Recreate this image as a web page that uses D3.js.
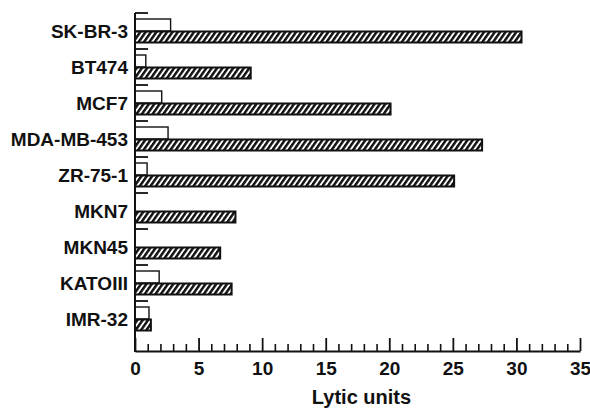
<!DOCTYPE html>
<html>
<head>
<meta charset="utf-8">
<script src="https://cdn.jsdelivr.net/npm/d3@7"></script>
<style>
  body { margin: 0; background: #fff; }
  .label { font-family: "Liberation Sans", Arial, sans-serif; font-size: 19px; font-weight: bold; fill: #111; }
  .tick text { font-family: "Liberation Sans", Arial, sans-serif; font-size: 19px; font-weight: bold; fill: #111; }
</style>
</head>
<body>
<div id="chart"></div>
<script>
'use strict'

// cell lines, top to bottom
var cellLines = ["SK-BR-3", "BT474", "MCF7", "MDA-MB-453", "ZR-75-1", "MKN7", "MKN45", "KATOIII", "IMR-32"]
// open bars (control) and hatched bars, in lytic units
var openValues = [2.8, 0.85, 2.1, 2.6, 0.95, 0, 0, 1.9, 1.1]
var hatchedValues = [30.4, 9.1, 20.1, 27.3, 25.1, 7.9, 6.7, 7.6, 1.25]
var majorTicks = [0, 5, 10, 15, 20, 25, 30, 35]

var width = 590
var height = 408
var margin = {left: 135, right: 10, top: 13, bottom: 57}

const svg = d3.select("#chart")
              .append("svg")
              .attr("width", width)
              .attr("height", height)

// hatch pattern for the filled bars
var defs = svg.append("defs")
defs.append("pattern")
    .attr("id", "hatch")
    .attr("patternUnits", "userSpaceOnUse")
    .attr("width", 4.4)
    .attr("height", 4.4)
    .attr("patternTransform", "rotate(35)")
  .append("rect")
    .attr("x", 0)
    .attr("y", 0)
    .attr("width", 2.5)
    .attr("height", 4.4)
    .attr("fill", "#111")

var xScale = d3.scaleLinear()
               .domain([0, 35])
               .range([margin.left, 580])

var yScale = d3.scaleBand()
               .domain(cellLines)
               .range([margin.top, margin.top + cellLines.length * 36])

var axisBottomY = height - margin.bottom  // 351

// bars
var rows = svg.selectAll(".row")
   .data(cellLines)
   .enter()
   .append("g")
   .attr("class", "row")

rows.filter((d, i) => openValues[i] > 0)
   .append("rect")
   .attr("x", xScale(0))
   .attr("y", (d) => yScale(d) + 6)
   .attr("width", (d) => xScale(openValues[cellLines.indexOf(d)]) - xScale(0))
   .attr("height", 12)
   .attr("fill", "#fff")
   .attr("stroke", "#111")
   .attr("stroke-width", 1.4)

rows.append("rect")
   .attr("x", xScale(0))
   .attr("y", (d) => yScale(d) + 18.5)
   .attr("width", (d, i) => xScale(hatchedValues[i]) - xScale(0))
   .attr("height", 11)
   .attr("fill", "url(#hatch)")
   .attr("stroke", "#111")
   .attr("stroke-width", 2)

// category ticks pointing inward at the top of each group
rows.append("line")
   .attr("x1", xScale(0))
   .attr("x2", xScale(0) + 13)
   .attr("y1", (d) => yScale(d))
   .attr("y2", (d) => yScale(d))
   .attr("stroke", "#111")
   .attr("stroke-width", 1.8)

rows.append("text")
   .attr("class", "label")
   .attr("x", 128)
   .attr("y", (d) => yScale(d) + 25)
   .attr("text-anchor", "end")
   .text((d) => d)

// y axis line
svg.append("line")
   .attr("x1", xScale(0))
   .attr("x2", xScale(0))
   .attr("y1", margin.top)
   .attr("y2", axisBottomY + 1)
   .attr("stroke", "#111")
   .attr("stroke-width", 2)

// x axis: minor ticks then major ticks with labels
var minorTicks = d3.range(0, 36).filter((v) => v % 5 != 0)

svg.append("g")
   .attr("transform", "translate(0," + axisBottomY + ")")
   .call(d3.axisBottom(xScale).tickValues(minorTicks).tickSizeInner(-7).tickSizeOuter(0).tickFormat(""))
   .call((g) => g.select(".domain").remove())
   .call((g) => g.selectAll("line").attr("stroke", "#111").attr("stroke-width", 1.6))

var xAxis = svg.append("g")
   .attr("transform", "translate(0," + axisBottomY + ")")
   .call(d3.axisBottom(xScale).tickValues(majorTicks).tickSizeInner(-13).tickSizeOuter(0).tickPadding(11).tickFormat(d3.format("d")))

xAxis.select(".domain").attr("stroke", "#111").attr("stroke-width", 2)
xAxis.selectAll("line").attr("stroke", "#111").attr("stroke-width", 1.8)

svg.append("text")
   .attr("class", "label")
   .attr("x", (xScale(0) + xScale(35)) / 2 + 4)
   .attr("y", 404)
   .attr("text-anchor", "middle")
   .style("font-size", "20px")
   .text("Lytic units")
</script>
</body>
</html>
